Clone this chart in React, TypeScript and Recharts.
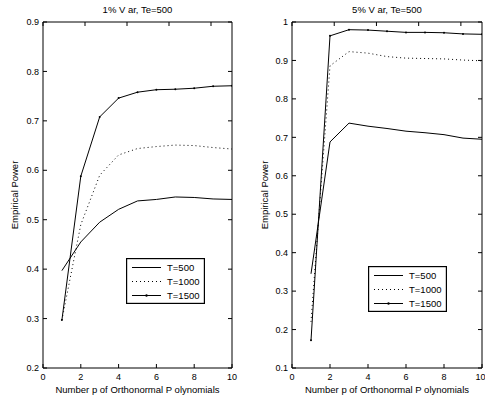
import React from "react";
import { LineChart, Line, XAxis, YAxis, Legend } from "recharts";

// number of orthonormal polynomials p
const pValues = [1, 2, 3, 4, 5, 6, 7, 8, 9, 10];
const xTicks = [0, 2, 4, 6, 8, 10];
const seriesNames = ["T=500", "T=1000", "T=1500"];

// 1% VaR panel
const var1T500 = [0.397, 0.455, 0.495, 0.521, 0.538, 0.541, 0.546, 0.545, 0.542, 0.541];
const var1T1000 = [0.297, 0.49, 0.59, 0.631, 0.644, 0.648, 0.651, 0.65, 0.646, 0.643];
const var1T1500 = [0.297, 0.588, 0.708, 0.746, 0.758, 0.763, 0.764, 0.766, 0.77, 0.771];
const var1Ticks = [0.2, 0.3, 0.4, 0.5, 0.6, 0.7, 0.8, 0.9];

// 5% VaR panel
const var5T500 = [0.345, 0.688, 0.737, 0.729, 0.723, 0.716, 0.712, 0.707, 0.698, 0.695];
const var5T1000 = [0.22, 0.886, 0.923, 0.919, 0.91, 0.906, 0.905, 0.904, 0.901, 0.899];
const var5T1500 = [0.172, 0.964, 0.98, 0.979, 0.976, 0.973, 0.973, 0.972, 0.969, 0.968];
const var5Ticks = [0.1, 0.2, 0.3, 0.4, 0.5, 0.6, 0.7, 0.8, 0.9, 1];

const font = "'Liberation Sans', Arial, sans-serif";

const buildRows = (a: number[], b: number[], c: number[]) =>
  pValues.map((p, i) => ({ p, t500: a[i], t1000: b[i], t1500: c[i] }));

const LegendBox = () => (
  <svg width={79} height={46} style={{ display: "block" }}>
    <rect x={0.6} y={0.6} width={77.8} height={44.8} fill="#fff" stroke="#000" strokeWidth={1.2} />
    {seriesNames.map((name, i) => {
      const y = 9.5 + i * 14;
      return (
        <g key={name}>
          <line
            x1={6}
            x2={35}
            y1={y}
            y2={y}
            stroke="#000"
            strokeWidth={1}
            strokeDasharray={i === 1 ? "1 3" : undefined}
          />
          {i === 2 && <circle cx={20.5} cy={y} r={1.2} fill="#000" />}
          <text x={41} y={y + 3.3} fontSize={9.5} fontFamily={font} fill="#000">
            {name}
          </text>
        </g>
      );
    })}
  </svg>
);

interface PanelProps {
  title: string;
  width: number;
  axisWidth: number;
  rightMargin: number;
  rows: { p: number; t500: number; t1000: number; t1500: number }[];
  yTicks: number[];
  legendLeft: number;
  legendTop: number;
  yLabelOffset: number;
}

function Panel({ title, width, axisWidth, rightMargin, rows, yTicks, legendLeft, legendTop, yLabelOffset }: PanelProps) {
  const yDomain = [yTicks[0], yTicks[yTicks.length - 1]];
  const tick = { fontSize: 9, fill: "#000", fontFamily: font };
  const fmt = (v: number) => String(+v.toFixed(1));
  return (
    <LineChart width={width} height={402} data={rows} margin={{ top: 21, right: rightMargin, bottom: 0, left: 0 }}>
      <XAxis
        dataKey="p"
        type="number"
        domain={[0, 10]}
        ticks={xTicks}
        allowDataOverflow
        height={34}
        tickSize={-4}
        tickMargin={10}
        tick={tick}
        axisLine={{ stroke: "#000" }}
        tickLine={{ stroke: "#000" }}
        label={{ value: "Number p of Orthonormal P olynomials", position: "insideBottom", offset: 9, fontSize: 9.5, fill: "#000", fontFamily: font }}
      />
      <XAxis
        xAxisId="top"
        orientation="top"
        type="number"
        domain={[0, 10]}
        ticks={xTicks}
        height={1}
        tickSize={-4}
        tickFormatter={() => ""}
        axisLine={{ stroke: "#000" }}
        tickLine={{ stroke: "#000" }}
        label={{ value: title, position: "top", offset: 8, fontSize: 9.5, fill: "#000", fontFamily: font }}
      />
      <YAxis
        type="number"
        domain={yDomain}
        ticks={yTicks}
        allowDataOverflow
        width={axisWidth}
        tickSize={-4}
        tickMargin={8}
        tick={tick}
        tickFormatter={fmt}
        axisLine={{ stroke: "#000" }}
        tickLine={{ stroke: "#000" }}
        label={{ value: "Empirical Power", angle: -90, position: "insideLeft", offset: yLabelOffset, fontSize: 9.5, fill: "#000", fontFamily: font, style: { textAnchor: "middle" } }}
      />
      <YAxis
        yAxisId="right"
        orientation="right"
        type="number"
        domain={yDomain}
        ticks={yTicks}
        allowDataOverflow
        width={1}
        tickSize={-4}
        tickFormatter={() => ""}
        axisLine={{ stroke: "#000" }}
        tickLine={{ stroke: "#000" }}
      />
      <Legend
        layout="vertical"
        align="center"
        verticalAlign="middle"
        content={() => <LegendBox />}
        wrapperStyle={{ left: legendLeft, top: legendTop, width: 79, height: 46 }}
      />
      <Line type="linear" dataKey="t500" name="T=500" stroke="#000" strokeWidth={1} dot={false} isAnimationActive={false} />
      <Line type="linear" dataKey="t1000" name="T=1000" stroke="#000" strokeWidth={1} strokeDasharray="1 3" dot={false} isAnimationActive={false} />
      <Line
        type="linear"
        dataKey="t1500"
        name="T=1500"
        stroke="#000"
        strokeWidth={1}
        dot={{ r: 1, fill: "#000", stroke: "none" }}
        isAnimationActive={false}
      />
    </LineChart>
  );
}

export default function App() {
  return (
    <div style={{ position: "absolute", left: 0, top: 0, width: 485, height: 402, background: "#fff", overflow: "hidden" }}>
      <div style={{ position: "absolute", left: 0, top: 0 }}>
        <Panel
          title="1%  V ar, Te=500"
          width={245}
          axisWidth={43}
          rightMargin={12}
          rows={buildRows(var1T500, var1T1000, var1T1500)}
          yTicks={var1Ticks}
          legendLeft={126}
          legendTop={258}
          yLabelOffset={15}
        />
      </div>
      <div style={{ position: "absolute", left: 245, top: 0 }}>
        <Panel
          title="5%  V ar, Te=500"
          width={240}
          axisWidth={47}
          rightMargin={2}
          rows={buildRows(var5T500, var5T1000, var5T1500)}
          yTicks={var5Ticks}
          legendLeft={123}
          legendTop={266}
          yLabelOffset={20}
        />
      </div>
    </div>
  );
}
